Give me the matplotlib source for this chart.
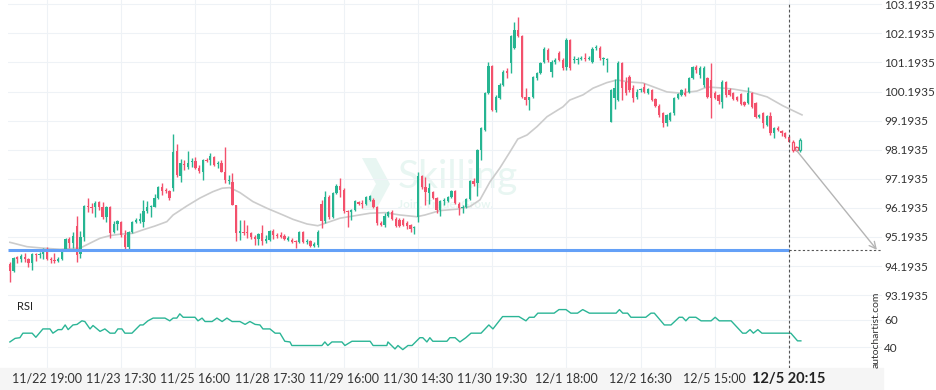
import numpy as np
import matplotlib
matplotlib.use('Agg')
import matplotlib.pyplot as plt
from matplotlib.patches import Rectangle, Polygon

plt.rcParams['font.family'] = ['Lato', 'DejaVu Sans']

### --- data --- ###
opens = [
    94.27, 94.03, 94.51, 94.44, 94.51, 94.44, 94.30, 94.61, 94.58, 94.61,
    94.68, 94.44, 94.41, 94.37, 94.44, 94.75, 95.13, 94.99, 95.57, 94.61,
    95.20, 96.26, 96.23, 96.23, 96.40, 96.23, 95.88, 96.23, 95.37, 95.64,
    95.71, 95.26, 94.85, 95.37, 95.71, 95.75, 95.71, 96.09, 96.23, 96.23,
    96.54, 96.91, 96.81, 96.78, 96.88, 98.15, 97.29, 97.70, 97.60, 97.77,
    97.81, 97.57, 97.43, 97.84, 97.84, 97.95, 97.70, 97.74, 97.43, 97.12,
    97.09, 96.30, 95.33, 95.37, 95.37, 95.33, 95.20, 95.13, 95.33, 95.06,
    95.09, 95.40, 95.26, 95.26, 95.23, 95.09, 95.09, 95.06, 95.02, 95.37,
    95.02, 95.06, 94.89, 94.92, 96.33, 95.75, 96.57, 95.88, 96.71, 96.95,
    96.81, 96.09, 96.05, 96.12, 96.40, 96.36, 96.33, 96.47, 96.47, 96.23,
    95.68, 95.61, 95.92, 96.05, 95.81, 95.78, 95.78, 95.68, 95.61, 95.50,
    95.88, 97.29, 96.91, 96.71, 96.74, 96.54, 96.12, 96.43, 96.43, 96.57,
    96.78, 96.33, 96.19, 96.23, 96.50, 97.12, 97.05, 98.19, 98.87, 100.14,
    101.07, 99.56, 99.97, 100.42, 100.90, 101.17, 101.69, 102.31, 102.10, 100.01,
    99.90, 100.01, 100.66, 100.83, 101.21, 101.62, 100.87, 101.21, 101.52, 101.28,
    101.04, 101.97, 101.28, 101.28, 101.31, 101.35, 101.31, 101.21, 101.69, 101.69,
    101.31, 101.28, 99.15, 99.97, 99.90, 101.17, 100.52, 100.69, 100.32, 100.01,
    100.25, 100.35, 100.14, 100.25, 99.94, 99.70, 99.46, 99.11, 99.22, 99.46,
    99.97, 100.08, 100.14, 100.18, 100.66, 101.04, 100.76, 100.42, 100.66, 100.59,
    100.14, 100.08, 99.83, 100.52, 100.25, 100.14, 100.01, 100.11, 99.83, 99.80,
    100.14, 99.80, 99.32, 99.46, 99.05, 99.35, 98.77, 98.94, 98.84, 98.77,
    98.63, 98.46, 98.29, 98.19]
highs = [
    94.34, 94.51, 94.54, 94.61, 94.65, 94.47, 94.65, 94.65, 94.68, 94.82,
    94.85, 94.51, 94.65, 94.51, 94.75, 95.16, 95.20, 95.37, 95.92, 95.40,
    96.30, 96.54, 96.36, 96.43, 96.43, 96.40, 96.26, 96.26, 95.75, 95.78,
    95.75, 95.44, 95.40, 95.75, 95.85, 96.02, 96.47, 96.43, 96.30, 96.67,
    96.95, 97.05, 96.88, 96.81, 98.74, 98.39, 97.88, 97.84, 98.15, 97.91,
    97.95, 97.67, 97.88, 97.91, 98.08, 97.98, 97.81, 97.84, 98.29, 97.33,
    97.39, 96.30, 95.78, 95.78, 95.61, 95.37, 95.26, 95.33, 95.61, 95.26,
    95.44, 95.47, 95.33, 95.37, 95.30, 95.23, 95.16, 95.09, 95.40, 95.40,
    95.13, 95.09, 95.02, 95.44, 96.47, 96.78, 96.64, 96.74, 97.02, 97.22,
    96.88, 96.12, 96.16, 96.47, 96.43, 96.47, 96.60, 96.64, 96.54, 96.26,
    95.75, 96.02, 96.09, 96.12, 95.88, 95.85, 95.85, 95.75, 95.64, 95.57,
    97.43, 97.33, 97.26, 97.05, 96.78, 96.57, 96.47, 96.54, 96.60, 96.81,
    96.81, 96.40, 96.30, 96.54, 97.15, 97.22, 98.22, 98.98, 100.18, 101.21,
    101.11, 100.08, 100.49, 100.94, 101.00, 102.14, 102.58, 102.76, 102.14, 100.32,
    100.01, 100.73, 100.87, 101.21, 101.72, 101.69, 101.28, 101.35, 101.59, 101.35,
    102.03, 102.00, 101.42, 101.38, 101.42, 101.52, 101.42, 101.72, 101.79, 101.76,
    101.38, 101.35, 100.28, 100.63, 101.24, 101.21, 100.69, 100.76, 100.42, 100.28,
    100.32, 100.49, 100.32, 100.28, 99.97, 99.77, 99.49, 99.42, 99.49, 100.01,
    100.14, 100.28, 100.32, 100.69, 101.07, 101.11, 101.07, 101.07, 100.69, 101.17,
    100.21, 100.11, 100.59, 100.56, 100.32, 100.18, 100.04, 100.14, 99.87, 100.35,
    100.18, 99.83, 99.42, 99.49, 99.39, 99.49, 98.98, 99.01, 98.87, 98.80,
    98.67, 98.53, 98.32, 98.60]
lows = [
    93.65, 93.99, 94.30, 94.34, 94.34, 94.16, 94.06, 94.37, 94.47, 94.44,
    94.41, 94.30, 94.30, 94.34, 94.41, 94.71, 94.82, 94.82, 94.34, 94.47,
    95.06, 96.05, 96.02, 95.88, 96.12, 95.81, 95.71, 95.16, 95.33, 95.44,
    95.20, 94.78, 94.78, 95.33, 95.68, 95.68, 95.54, 96.02, 95.88, 96.23,
    96.50, 96.64, 96.71, 96.47, 96.78, 97.26, 97.09, 97.50, 97.53, 97.60,
    97.53, 97.39, 97.15, 97.77, 97.67, 97.64, 97.57, 97.43, 97.05, 97.02,
    96.30, 95.06, 95.09, 95.26, 95.16, 95.13, 94.92, 94.92, 94.92, 94.99,
    95.06, 95.13, 95.16, 95.16, 95.09, 95.06, 94.99, 94.82, 94.99, 94.99,
    94.96, 94.85, 94.85, 94.85, 95.50, 95.68, 95.81, 95.85, 96.67, 96.57,
    96.02, 95.54, 95.78, 96.09, 96.30, 96.19, 96.30, 96.43, 96.19, 95.61,
    95.57, 95.54, 95.88, 95.78, 95.54, 95.54, 95.57, 95.47, 95.37, 95.30,
    95.71, 96.85, 96.30, 96.33, 96.50, 96.02, 95.92, 96.30, 96.40, 96.54,
    96.33, 95.95, 96.02, 96.19, 96.47, 96.95, 96.60, 97.84, 98.84, 100.11,
    99.53, 99.49, 99.94, 100.39, 100.66, 100.83, 101.66, 102.07, 99.97, 99.73,
    99.56, 99.97, 100.59, 100.80, 101.17, 101.21, 100.69, 101.14, 101.24, 100.94,
    100.94, 100.94, 101.17, 101.14, 101.28, 101.24, 101.28, 101.17, 101.62, 101.28,
    101.11, 100.87, 99.15, 99.59, 99.87, 99.90, 100.08, 100.18, 99.83, 99.94,
    100.18, 100.14, 100.11, 99.87, 99.66, 99.32, 98.98, 99.01, 99.18, 99.39,
    99.94, 100.04, 100.04, 100.14, 100.63, 100.83, 100.66, 100.35, 99.97, 99.29,
    99.94, 99.77, 99.63, 100.01, 100.04, 99.90, 99.87, 99.73, 99.70, 99.77,
    99.63, 99.29, 99.29, 98.94, 99.01, 98.70, 98.60, 98.84, 98.67, 98.60,
    98.46, 98.12, 98.15, 98.12]
closes = [
    94.03, 94.47, 94.44, 94.54, 94.44, 94.30, 94.61, 94.58, 94.61, 94.68,
    94.44, 94.41, 94.37, 94.44, 94.68, 95.13, 94.99, 95.23, 94.58, 95.20,
    96.26, 96.23, 96.19, 96.36, 96.23, 95.88, 96.23, 95.33, 95.64, 95.75,
    95.26, 94.85, 95.37, 95.71, 95.78, 95.81, 96.09, 96.23, 96.26, 96.54,
    96.91, 96.78, 96.78, 96.54, 98.12, 97.33, 97.74, 97.67, 97.74, 97.81,
    97.57, 97.46, 97.84, 97.81, 97.98, 97.67, 97.74, 97.43, 97.15, 97.15,
    96.30, 95.33, 95.40, 95.33, 95.33, 95.20, 95.13, 95.30, 95.06, 95.13,
    95.40, 95.26, 95.23, 95.20, 95.13, 95.16, 95.02, 95.02, 95.37, 95.02,
    95.06, 94.89, 94.96, 95.37, 95.75, 96.57, 95.88, 96.71, 96.95, 96.81,
    96.09, 96.05, 96.12, 96.43, 96.33, 96.33, 96.57, 96.60, 96.23, 95.68,
    95.61, 95.92, 96.05, 95.81, 95.57, 95.57, 95.61, 95.57, 95.47, 95.54,
    97.29, 96.91, 96.74, 96.88, 96.54, 96.12, 96.43, 96.47, 96.57, 96.78,
    96.36, 96.19, 96.23, 96.50, 97.12, 97.02, 98.19, 98.94, 100.14, 101.07,
    99.56, 100.01, 100.42, 100.87, 100.83, 102.10, 102.31, 102.10, 100.01, 99.90,
    100.01, 100.69, 100.83, 101.17, 101.66, 101.28, 101.21, 101.28, 101.28, 101.00,
    101.97, 101.00, 101.31, 101.31, 101.35, 101.31, 101.35, 101.66, 101.72, 101.35,
    101.35, 101.31, 100.25, 100.32, 101.17, 100.32, 100.14, 100.25, 99.97, 100.18,
    100.28, 100.18, 100.28, 99.90, 99.70, 99.39, 99.11, 99.39, 99.46, 99.97,
    100.11, 100.25, 100.08, 100.66, 101.04, 100.94, 101.00, 101.00, 100.01, 99.97,
    99.97, 99.87, 100.52, 100.08, 100.08, 99.94, 99.90, 99.77, 99.73, 100.14,
    99.66, 99.32, 99.39, 99.11, 99.35, 98.77, 98.94, 98.87, 98.77, 98.63,
    98.46, 98.19, 98.19, 98.53]
n_pending = 3   # last candles after the pattern end are drawn hollow

ma_idx = [0, 4.6, 8.9, 13.5, 18.9, 21.6, 24.3, 27.0, 29.7, 33.2, 35.9, 39.1, 42.3, 44.0, 47.7,
          51.2, 54.7, 57.2, 59.3, 62.0, 65.5, 69.3, 73.6, 76.3, 80.1, 83.0, 84.4, 89.0, 97.1,
          101.1, 105.1, 109.7, 111.9, 115.9, 120.5, 124.0, 126.7, 129.4, 132.1, 134.8, 136.9,
          139.4, 142.1, 144.8, 149.1, 150.9, 154.5, 157.2, 160.9, 163.6, 167.1, 170.6, 177.1,
          180.6, 185.2, 187.9, 191.4, 194.9, 199.5, 204.1, 208.4, 213.5]
ma_val = [95.01, 94.86, 94.81, 94.77, 94.81, 94.98, 95.15, 95.24, 95.29, 95.32, 95.44, 95.57,
          95.72, 95.95, 96.26, 96.53, 96.75, 96.87, 96.89, 96.72, 96.41, 96.18, 95.95, 95.80,
          95.64, 95.58, 95.64, 95.84, 96.01, 96.03, 95.95, 95.89, 95.95, 96.10, 96.15, 96.24,
          96.47, 97.09, 97.57, 98.12, 98.56, 98.70, 98.99, 99.33, 99.67, 99.90, 100.08, 100.31,
          100.50, 100.59, 100.52, 100.49, 100.18, 100.14, 100.21, 100.35, 100.32, 100.28,
          100.18, 100.01, 99.70, 99.39]

rsi_idx = [0.0, 1.4, 2.7, 3.5, 6.0, 7.0, 8.9, 10.8, 11.6, 13.0, 14.0, 14.9, 15.7, 17.0, 18.1,
           19.4, 20.2, 21.6, 22.4, 24.3, 25.6, 27.0, 28.3, 29.1, 30.2, 31.0, 32.9, 35.1, 35.9,
           37.2, 38.6, 41.8, 43.1, 44.0, 45.0, 45.8, 46.7, 49.9, 50.7, 51.8, 52.6, 54.5, 55.8,
           57.2, 58.5, 59.9, 62.0, 63.4, 64.7, 66.1, 67.4, 68.2, 70.1, 71.5, 72.8, 74.1, 75.5,
           76.0, 84.1, 84.9, 85.7, 86.8, 89.5, 90.3, 92.2, 97.1, 97.9, 101.6, 101.9, 103.8,
           104.6, 105.9, 107.3, 108.4, 110.5, 111.3, 112.4, 113.2, 114.0, 117.8, 118.6, 120.0,
           121.3, 122.9, 124.3, 127.0, 129.1, 130.2, 132.8, 137.2, 139.1, 140.0, 141.3, 142.3,
           146.7, 148.0, 149.9, 151.2, 153.0, 154.4, 156.2, 163.4, 164.3, 165.2, 166.5, 167.4,
           171.4, 172.8, 173.7, 176.4, 178.2, 180.4, 181.3, 182.2, 183.1, 184.9, 186.3, 189.0,
           190.1, 191.2, 194.4, 197.5, 198.4, 199.5, 200.4, 201.6, 202.7, 210.5, 212.3, 213.2]
rsi_val = [43.8, 46.4, 46.9, 50.2, 50.2, 47.2, 53.3, 53.3, 50.2, 52.8, 52.8, 56.2, 52.8, 56.2,
           56.6, 59.2, 58.7, 53.3, 55.8, 51.5, 53.3, 50.2, 50.2, 53.3, 53.3, 50.2, 50.2, 56.2,
           56.2, 59.2, 61.2, 61.2, 59.2, 61.2, 61.2, 64.3, 61.8, 61.8, 59.2, 61.2, 58.7, 58.7,
           61.2, 58.7, 61.2, 58.7, 58.7, 56.6, 58.7, 56.6, 56.2, 53.3, 53.3, 50.2, 50.2, 44.3,
           43.8, 41.2, 41.2, 43.8, 41.2, 43.8, 43.8, 41.2, 44.3, 44.3, 41.2, 41.2, 43.8, 38.7,
           41.2, 38.2, 41.2, 41.2, 46.9, 46.9, 43.8, 46.9, 44.3, 44.3, 46.9, 46.9, 43.8, 46.9,
           50.2, 50.2, 56.2, 53.3, 62.3, 62.3, 59.2, 61.8, 61.8, 64.8, 64.8, 67.4, 67.4, 64.8,
           64.8, 67.4, 64.8, 64.8, 67.4, 64.8, 64.8, 61.8, 61.8, 64.8, 64.8, 56.2, 56.2, 61.8,
           61.8, 59.2, 61.8, 61.8, 59.2, 59.2, 61.8, 59.2, 59.2, 50.2, 50.2, 52.8, 50.2, 52.8,
           50.2, 50.2, 44.6, 44.6]

price_ticks = [93.1935, 94.1935, 95.1935, 96.1935, 97.1935, 98.1935,
               99.1935, 100.1935, 101.1935, 102.1935, 103.1935]
rsi_ticks = [40, 60]
time_idx = [10, 30, 50, 70, 90, 110, 130, 150, 170, 190, 210]
time_labels = ['11/22 19:00', '11/23 17:30', '11/25 16:00', '11/28 17:30', '11/29 16:00',
               '11/30 14:30', '11/30 19:30', '12/1 18:00', '12/2 16:30', '12/5 15:00',
               '12/5 20:15']
support_level = 94.75
pattern_end = 210
forecast_end = 233.7

GREEN = '#26b592'
RED = '#f3516c'
GRID = '#eef2f6'

### --- figure --- ###
W, H = 936, 390
fig = plt.figure(figsize=(W / 100, H / 100), dpi=100)
fig.patch.set_facecolor('white')
fig.patches.append(Rectangle((0, 0), 883 / W, 22 / H, transform=fig.transFigure,
                             color='#f5f5f5', zorder=-5))

ax = fig.add_axes([8 / W, 1 - 297 / H, 874 / W, 297 / H])
ax2 = fig.add_axes([8 / W, 22 / H, 874 / W, 75 / H])
xlim = (-0.51, 235.07)

o = np.array(opens); h = np.array(highs); l = np.array(lows); c = np.array(closes)
x = np.arange(len(o))
col = np.where(c >= o, GREEN, RED)
solid = x < len(o) - n_pending

ax.vlines(x, l, h, colors=col, lw=1, zorder=3)
lo = np.minimum(o, c)
hh = np.maximum(np.abs(c - o), 0.03)
ax.bar(x[solid], hh[solid], bottom=lo[solid], width=0.62, color=col[solid], lw=0, zorder=4)
ax.bar(x[~solid], hh[~solid], bottom=lo[~solid], width=0.62, facecolor='white',
       edgecolor=col[~solid], lw=0.9, zorder=4)

ax.plot(ma_idx, ma_val, color='#cccccc', lw=1.2, zorder=2)

ax.hlines(support_level, xlim[0], pattern_end, colors='#64a0f7', lw=2.2, zorder=5)
ax.hlines(support_level, pattern_end, xlim[1], colors='#555555', lw=0.8,
          linestyles=(0, (2, 2)), zorder=5)
ax.axvline(pattern_end, ymax=1 - 4 / 297, color='#555555', lw=0.8, ls=(0, (2.5, 2)), zorder=6)
ax2.axvline(pattern_end, color='#555555', lw=0.8, ls=(0, (2.5, 2)), zorder=6)

ax.annotate('', xy=(forecast_end, support_level), xytext=(len(o) - 2.1, closes[-2]),
            arrowprops=dict(arrowstyle='->', color='#b4b4b4', lw=1, mutation_scale=12,
                            shrinkA=0, shrinkB=0), zorder=6)

# faint broker watermark
wm = '#e8f6f2'
ax.text(398 / W, 1 - 177 / H, 'Skilling', transform=fig.transFigure, fontsize=28,
        color=wm, ha='left', va='center', zorder=1)
ax.text(398 / W, 1 - 205 / H, 'Join. Trade. Grow.', transform=fig.transFigure, fontsize=8.5,
        color=wm, fontweight='bold', ha='left', va='center', zorder=1)
ax.add_patch(Polygon([(362 / W, 1 - 158 / H), (376 / W, 1 - 158 / H), (390 / W, 1 - 184 / H),
                      (376 / W, 1 - 210 / H), (362 / W, 1 - 210 / H), (376 / W, 1 - 184 / H)],
                     closed=True, transform=fig.transFigure, color=wm, lw=0, zorder=1))

ax.set_xlim(*xlim)
ax.set_ylim(93.13, 103.34)
ax.set_yticks(price_ticks)
ax.set_yticklabels([f'{v:.4f}' for v in price_ticks])
ax.yaxis.tick_right()
ax.tick_params(axis='y', length=0, pad=1.5, labelsize=8.5, labelcolor='#333333')
ax.set_xticks(time_idx)
ax.tick_params(axis='x', length=0, labelbottom=False)
ax.grid(True, color=GRID, lw=0.8, zorder=0)
for s in ax.spines.values():
    s.set_visible(False)

ax2.plot(rsi_idx, rsi_val, color='#2bb596', lw=1, zorder=3)
ax2.set_xlim(*xlim)
ax2.set_ylim(24.8, 79.5)
ax2.set_yticks(rsi_ticks)
ax2.yaxis.tick_right()
ax2.tick_params(axis='y', length=0, pad=1.5, labelsize=8.5, labelcolor='#333333')
ax2.set_xticks(time_idx)
ax2.set_xticklabels(time_labels)
ax2.tick_params(axis='x', length=0, pad=3, labelsize=9, labelcolor='#333333')
last = ax2.get_xticklabels()[-1]
last.set_fontweight('bold')
last.set_fontsize(10.5)
last.set_color('#222222')
ax2.grid(True, color=GRID, lw=0.8, zorder=0)
ax2.set_facecolor('none')
for s in ax2.spines.values():
    s.set_visible(False)

fig.text(17 / W, 1 - 307 / H, 'RSI', fontsize=8, color='#222222', ha='left', va='center')
fig.text(876 / W, 1 - 330 / H, 'autochartist.com', rotation=90, fontsize=7.5,
         color='#333333', ha='center', va='center')

fig.savefig('out.png', dpi=100, facecolor='white')
